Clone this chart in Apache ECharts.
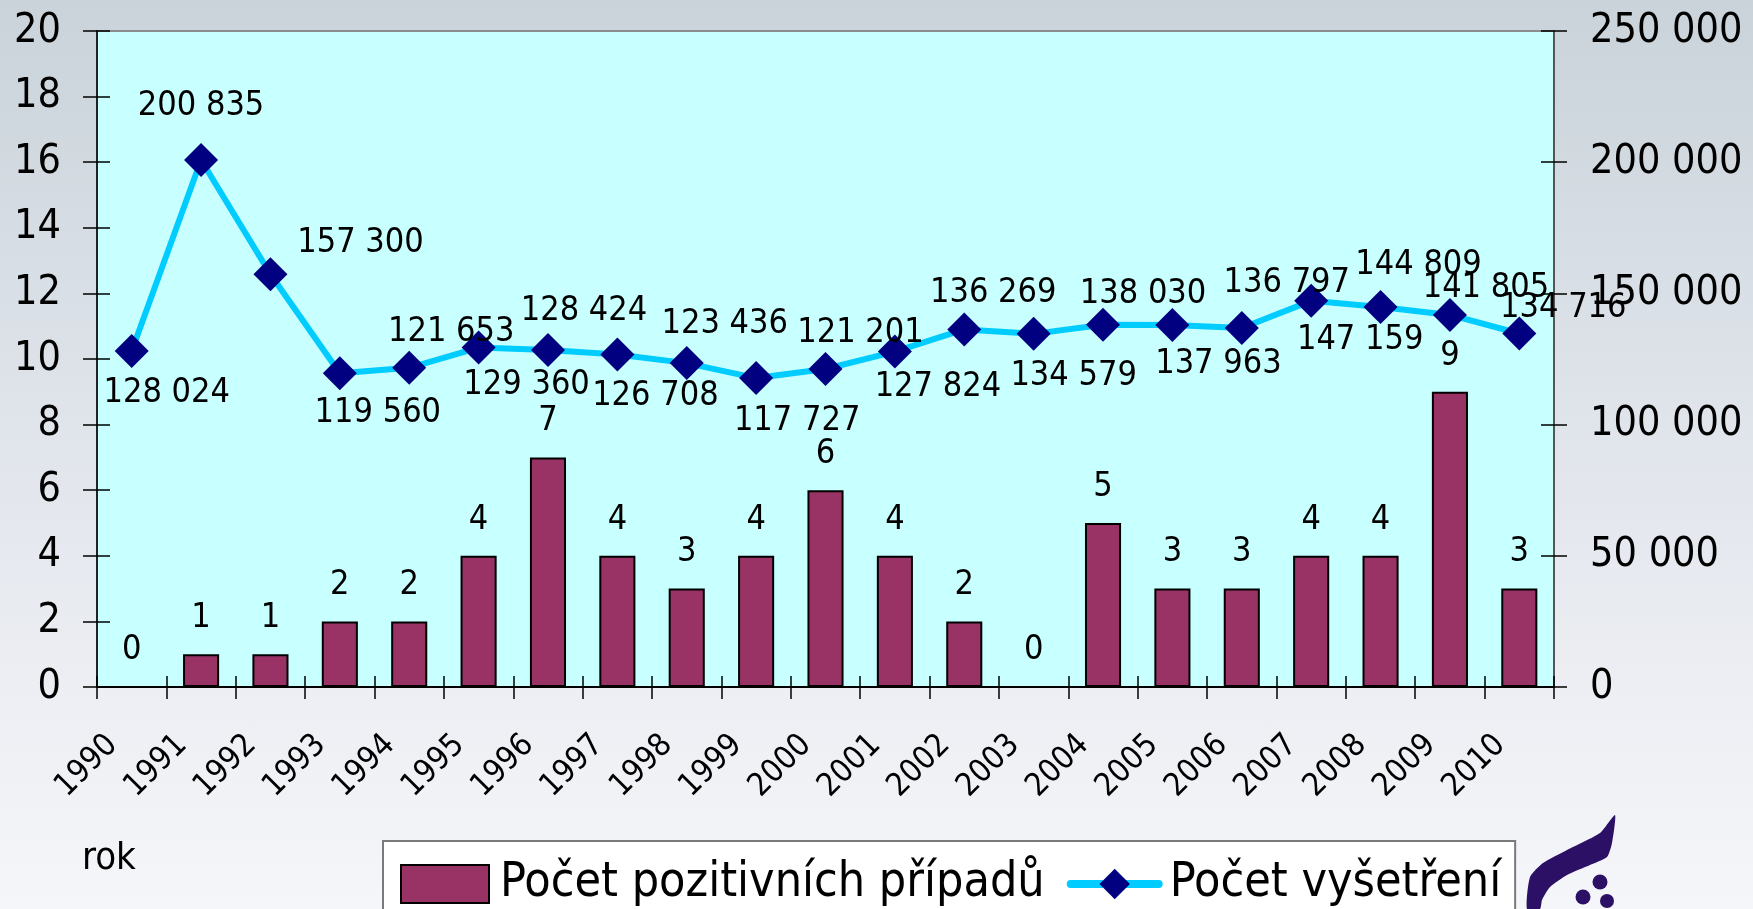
<!DOCTYPE html>
<html>
<head>
<meta charset="utf-8">
<script src="https://cdn.jsdelivr.net/npm/echarts@6/dist/echarts.min.js"></script>
<style>
  html, body { margin: 0; padding: 0; }
  body {
    width: 1753px; height: 909px; overflow: hidden;
    background: linear-gradient(180deg, #c9d3d9 0%, #dde2e9 40%, #eceef3 75%, #f4f6f9 100%);
  }
  #chart { width: 1753px; height: 909px; }
</style>
</head>
<body>
<div id="chart"></div>
<script>
// roky
const years = ['1990', '1991', '1992', '1993', '1994', '1995', '1996', '1997', '1998', '1999', '2000',
  '2001', '2002', '2003', '2004', '2005', '2006', '2007', '2008', '2009', '2010']
// počet pozitivních případů (levá osa)
const positiveCases = [0, 1, 1, 2, 2, 4, 7, 4, 3, 4, 6, 4, 2, 0, 5, 3, 3, 4, 4, 9, 3]
// počet vyšetření (pravá osa)
const examinations = [128024, 200835, 157300, 119560, 121653, 129360, 128424, 126708, 123436, 117727, 121201,
  127824, 136269, 134579, 138030, 137963, 136797, 147159, 144809, 141805, 134716]
// popisky os
const leftTicks = [0, 2, 4, 6, 8, 10, 12, 14, 16, 18, 20]
const rightTicks = [0, 50000, 100000, 150000, 200000, 250000]

// posun popisků bodů (jako v původním grafu)
const lineLabelOffsets = [[35, 42], [0, -54], [90, -31], [38, 40], [42, -36], [48, 38], [36, -39], [38, 42],
  [38, -39], [41, 43], [35, -36], [43, 36], [29, -36], [40, 42], [40, -31], [46, 39], [45, -45], [49, 39],
  [38, -42], [36, -27], [44, -25]]

const FONT = "'DejaVu Sans Condensed', 'Liberation Sans Narrow', 'DejaVu Sans', sans-serif"
const fmt = (v) => String(v).replace(/\B(?=(\d{3})+(?!\d))/g, ' ')

const chart = echarts.init(document.getElementById('chart'))

const option = {
  backgroundColor: 'transparent',
  textStyle: { fontFamily: FONT, color: '#000' },
  grid: {
    left: 97, right: 199, top: 31, bottom: 222,
    show: true,
    backgroundColor: '#c8ffff',
    borderColor: '#8c8c8c',
    borderWidth: 2,
  },
  legend: {
    left: 383,
    top: 841,
    backgroundColor: '#ffffff',
    borderColor: '#7a7a7a',
    borderWidth: 2,
    padding: [19, 14, 40, 17],
    itemGap: 22,
    itemWidth: 88,
    itemHeight: 38,
    lineStyle: { width: 8, cap: 'round' },
    textStyle: { fontFamily: FONT, fontSize: 48, color: '#000', padding: [0, 0, 0, 6] },
    data: [
      { name: 'Počet pozitivních případů', icon: 'rect' },
      { name: 'Počet vyšetření' },
    ],
  },
  xAxis: [
    {
      type: 'category',
      data: years,
      axisLine: { lineStyle: { color: '#000', width: 2 } },
      axisTick: { show: true, length: 12, lineStyle: { color: '#000', width: 1.5 } },
      axisLabel: {
        rotate: 45, fontSize: 32, fontFamily: FONT, color: '#000',
        margin: 34, padding: [0, 27, 0, 0],
      },
    },
    {
      // vnitřní část křížových značek
      type: 'category',
      data: years,
      position: 'bottom',
      axisLine: { show: false },
      axisTick: { show: true, inside: true, length: 11, lineStyle: { color: '#000', width: 1.5 } },
      axisLabel: { show: false },
    },
  ],
  yAxis: [
    {
      type: 'value',
      position: 'left',
      min: leftTicks[0], max: leftTicks[leftTicks.length - 1], interval: 2,
      splitLine: { show: false },
      axisLine: { show: true, lineStyle: { color: '#222', width: 2 } },
      axisTick: { show: true, length: 14, lineStyle: { color: '#000', width: 1.5 } },
      axisLabel: { fontSize: 41, fontFamily: FONT, color: '#000', margin: 36 },
    },
    {
      type: 'value',
      position: 'right',
      min: rightTicks[0], max: rightTicks[rightTicks.length - 1], interval: 50000,
      splitLine: { show: false },
      axisLine: { show: true, lineStyle: { color: '#555', width: 2 } },
      axisTick: { show: true, length: 13, lineStyle: { color: '#000', width: 1.5 } },
      axisLabel: { fontSize: 41, fontFamily: FONT, color: '#000', margin: 36, formatter: fmt },
    },
    {
      type: 'value',
      position: 'left',
      min: 0, max: 20, interval: 2,
      splitLine: { show: false },
      axisLine: { show: false },
      axisTick: { show: true, inside: true, length: 13, lineStyle: { color: '#000', width: 1.5 } },
      axisLabel: { show: false },
    },
    {
      type: 'value',
      position: 'right',
      min: 0, max: 250000, interval: 50000,
      splitLine: { show: false },
      axisLine: { show: false },
      axisTick: { show: true, inside: true, length: 13, lineStyle: { color: '#000', width: 1.5 } },
      axisLabel: { show: false },
    },
  ],
  series: [
    {
      name: 'Počet pozitivních případů',
      type: 'bar',
      yAxisIndex: 0,
      barWidth: '52%',
      data: positiveCases,
      itemStyle: { color: '#993366', borderColor: '#000', borderWidth: 2 },
      label: {
        show: true, position: 'top', distance: 19,
        fontSize: 34, fontFamily: FONT, color: '#000',
      },
      z: 2,
    },
    {
      name: 'Počet vyšetření',
      type: 'line',
      yAxisIndex: 1,
      symbol: 'diamond',
      symbolSize: 34,
      lineStyle: { color: '#00ccff', width: 6 },
      itemStyle: { color: '#000080' },
      data: examinations.map((v, i) => ({
        value: v,
        label: { offset: lineLabelOffsets[i] },
      })),
      label: {
        show: true, position: 'inside',
        fontSize: 34, fontFamily: FONT, color: '#000',
        formatter: (p) => fmt(p.value),
      },
      z: 3,
    },
  ],
  graphic: [
    {
      type: 'text', left: 82, top: 840,
      style: { text: 'rok', fontSize: 38, fontFamily: FONT, fill: '#000' },
    },
    {
      type: 'polygon',
      shape: {
        smooth: 0.2,
        points: [[1615, 815], [1612, 843], [1607, 857], [1590, 865], [1567, 875], [1550, 887],
          [1542, 900], [1540, 909], [1527, 909], [1530, 877], [1543, 863], [1567, 850], [1600, 833]],
      },
      style: { fill: '#2b1066' },
    },
    { type: 'circle', shape: { cx: 1600, cy: 882, r: 7.5 }, style: { fill: '#2b1066' } },
    { type: 'circle', shape: { cx: 1583, cy: 897, r: 7.5 }, style: { fill: '#2b1066' } },
    { type: 'circle', shape: { cx: 1607, cy: 901, r: 7 }, style: { fill: '#2b1066' } },
  ],
}

chart.setOption(option)
window.addEventListener('resize', () => chart.resize())
</script>
</body>
</html>
